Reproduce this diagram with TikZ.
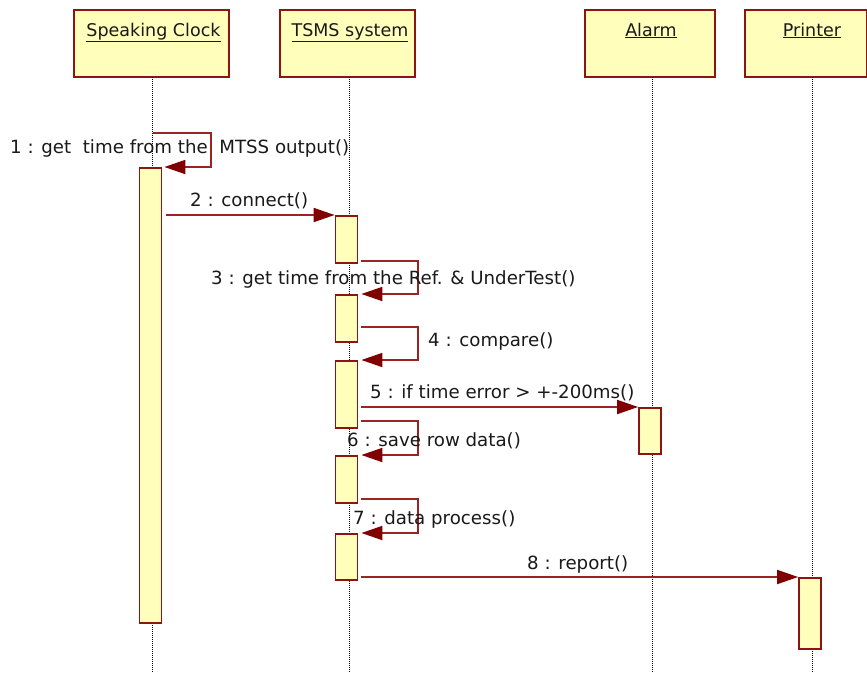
\documentclass[tikz,border=0pt]{standalone}
\usepackage{fontspec}
\setmainfont{DejaVu Sans}
\usetikzlibrary{arrows.meta}
\definecolor{uborder}{RGB}{140,20,20}
\definecolor{umsg}{RGB}{155,35,35}
\definecolor{uhead}{RGB}{128,0,0}
\definecolor{ufill}{RGB}{255,255,187}
\begin{document}
\begin{tikzpicture}[x=1pt,y=-1pt,
  every node/.style={font=\fontsize{17.5}{20}\selectfont},
  headbox/.style={draw=uborder,fill=ufill,line width=1.8pt,minimum width=#1,minimum height=67pt,inner sep=0pt},
  actbox/.style={draw=uborder,fill=ufill,line width=1.8pt,minimum width=22pt,minimum height=#1,inner sep=0pt,anchor=north},
  lifeline/.style={black,line width=1pt,dash pattern=on 1pt off 1pt},
  msg/.style={draw=umsg,line width=1.8pt,-{Triangle[length=21pt,width=14pt,fill=uhead,color=uhead]}},
  lbl/.style={anchor=base west,inner sep=0pt,text=black!90,font=\fontsize{18.2}{21}\selectfont},
  title/.style={anchor=base,inner sep=0pt,text=black!90}]
\useasboundingbox (0,0) rectangle (867,673);

% object heads
\node[headbox=155pt] (sc) at (151.5,43.5) {};
\node[headbox=135pt] (ts) at (347.5,43.5) {};
\node[headbox=130pt] (al) at (650,43.5) {};
\node[headbox=122pt] (pr) at (806,43.5) {};
\node[title] (scT) at (153.5,36) {\underline{Speaking Clock}};
\node[title] (tsT) at (350,36) {\underline{TSMS system}};
\node[title] (alT) at (651,36) {\underline{Alarm}};
\node[title] (prT) at (812,36) {\underline{Printer}};

% lifelines
\coordinate (scE) at (152.5,673);
\coordinate (tsE) at (349,673);
\coordinate (alE) at (652,673);
\coordinate (prE) at (812,673);
\draw[lifeline] (152.5,77) -- (scE);
\draw[lifeline] (349,77) -- (tsE);
\draw[lifeline] (652,77) -- (alE);
\draw[lifeline] (812,77) -- (prE);

% activations
\node[actbox=455pt] (sc1) at (150.5,167) {};
\node[actbox=47pt] (ts1) at (346.5,215) {};
\node[actbox=47pt] (ts2) at (346.5,294) {};
\node[actbox=67pt] (ts3) at (346.5,360) {};
\node[actbox=47pt] (ts4) at (346.5,455) {};
\node[actbox=46pt] (ts5) at (346.5,533) {};
\node[actbox=46pt] (al1) at (650,407) {};
\node[actbox=71pt] (pr1) at (810,577) {};

% message start points
\coordinate (m1s) at (153,133);
\coordinate (m2s) at (166,215);
\coordinate (m3s) at (361,261);
\coordinate (m4s) at (361,327);
\coordinate (m5s) at (361,407);
\coordinate (m6s) at (361,421);
\coordinate (m7s) at (361,499);
\coordinate (m8s) at (361,577);

% messages
\draw[msg] (m1s) -- ++(58,0) |- ([xshift=2pt]sc1.north east);
\draw[msg] (m2s) -- (ts1.north west);
\draw[msg] (m3s) -- ++(57,0) |- ([xshift=3pt]ts2.north east);
\draw[msg] (m4s) -- ++(57,0) |- ([xshift=3pt]ts3.north east);
\draw[msg] (m5s) -- (al1.north west);
\draw[msg] (m6s) -- ++(57,0) |- ([xshift=3pt]ts4.north east);
\draw[msg] (m7s) -- ++(57,0) |- ([xshift=3pt]ts5.north east);
\draw[msg] (m8s) -- (pr1.north west);

% message labels
\node[lbl] (l1) at (10,153) {1 : get\ \ time from the\ \ MTSS output()};
\node[lbl] (l2) at (190,206) {2 : connect()};
\node[lbl] (l3) at (211,284) {3 : get time from the Ref. \& UnderTest()};
\node[lbl] (l4) at (428,346) {4 : compare()};
\node[lbl] (l5) at (370,398) {5 : if time error > +-200ms()};
\node[lbl] (l6) at (347,446) {6 : save row data()};
\node[lbl] (l7) at (353,524) {7 : data process()};
\node[lbl] (l8) at (527,569) {8 : report()};
\end{tikzpicture}
\end{document}
